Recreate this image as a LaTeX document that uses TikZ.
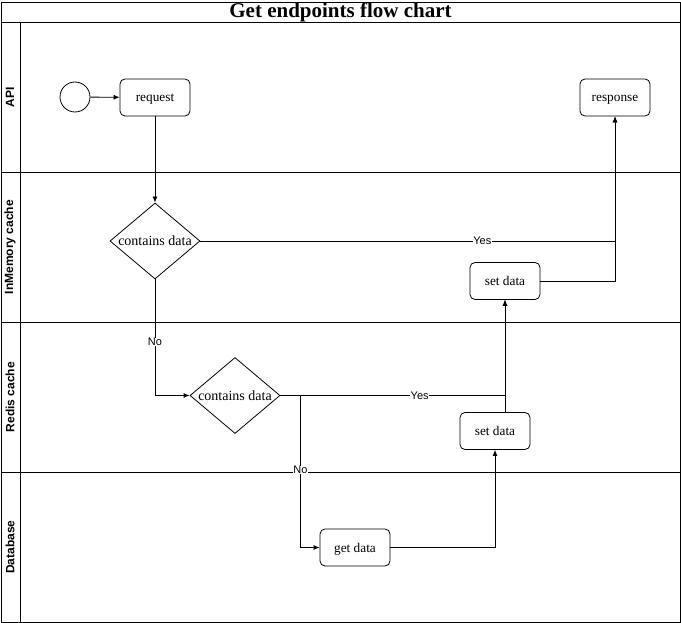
\documentclass[tikz,border=0pt]{standalone}
\usepackage{fontspec}
\setmainfont{Liberation Serif}
\setsansfont{Liberation Sans}
\usetikzlibrary{arrows.meta,shapes.geometric,positioning}

\tikzset{
  task/.style={draw, rounded corners=5pt, minimum width=70pt, minimum height=37pt, inner sep=0pt, text height=9pt, text depth=0pt, font=\fontsize{13.3}{15}\selectfont},
  decision/.style={draw, diamond, aspect=1.18, minimum width=90pt, minimum height=76pt, inner sep=0pt, font=\fontsize{14}{16}\selectfont},
  start/.style={draw, circle, minimum size=30pt, inner sep=0pt},
  lane/.style={font=\sffamily\bfseries\fontsize{12}{14}\selectfont, rotate=90},
  lbl/.style={fill=white, inner sep=0.5pt, font=\sffamily\fontsize{11}{12}\selectfont},
  flow/.style={-{Latex[length=6pt,width=5pt]}, line width=0.8pt},
}

\begin{document}
\begin{tikzpicture}[x=1pt, y=-1pt, line width=0.8pt]
  \useasboundingbox (0,0) rectangle (681,623);

  % Pool and lanes
  \draw (1,2) rectangle (680,622);
  \draw (1,22) -- (680,22);
  \draw (20,22) -- (20,622);
  \foreach \y in {172,322,472}
    \draw (1,\y) -- (680,\y);
  \node[font=\bfseries\fontsize{21}{23}\selectfont] (title) at (340.5,12) {Get endpoints flow chart};
  \node[lane] (api)   at (10,97)  {API};
  \node[lane] (inmem) at (10,247) {InMemory cache};
  \node[lane] (redis) at (10,397) {Redis cache};
  \node[lane] (db)    at (10,547) {Database};

  % Define nodes
  \node[start]    (s)     at (75,97)    {};
  \node[task]     (req)   at (155,97.5) {request};
  \node[task]     (resp)  at (615,97.5) {response};
  \node[decision] (memq)  at (155,241)  {contains data};
  \node[task]     (memset) at (505,281) {set data};
  \node[decision] (redq)  at (235,395.5) {contains data};
  \node[task]     (redset) at (495,431) {set data};
  \node[task]     (get)   at (355,547.5) {get data};

  % Connect the nodes
  \draw[flow] (s) -- (req);
  \draw[flow] (req) -- (memq);
  \draw[flow] (memq.east) -| node[lbl, pos=0.34] {Yes} (resp.south);
  \draw[flow] (memset.east) -| (resp.south);
  \draw[flow] (memq.south) |- node[lbl, pos=0.27] {No} (redq.west);
  \draw[flow] (redq.east) -| node[lbl, pos=0.31] {Yes} (memset.south);
  \draw[flow] ([xshift=10pt]redset.north) -- (memset.south);
  \draw[flow] (redq.east) -- ++(20,0) |- node[lbl, pos=0.245] {No} (get.west);
  \draw[flow] (get.east) -| (redset.south);
\end{tikzpicture}
\end{document}
